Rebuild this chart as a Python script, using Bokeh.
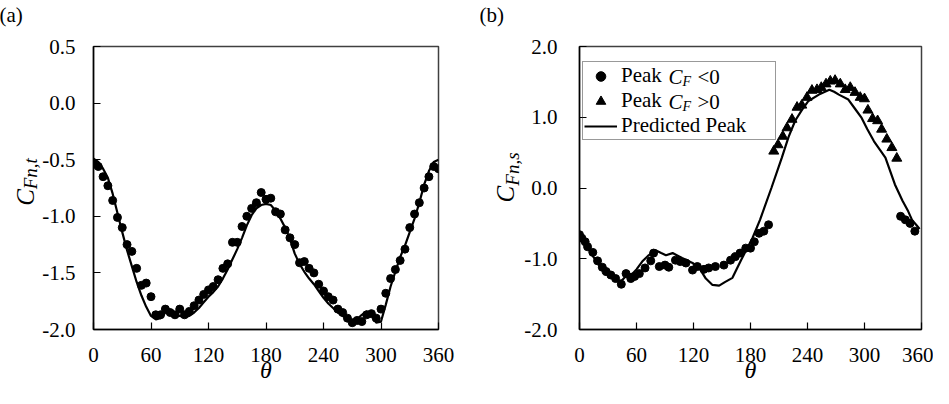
import math
from bokeh.plotting import figure
from bokeh.models import (FixedTicker, NumeralTickFormatter, Label, Legend,
                          LegendItem, Range1d, LinearAxis, Title)
from bokeh.layouts import row
from bokeh.embed import file_html
from bokeh.resources import INLINE

# ---------------- data: panel (a) ----------------
a_dot_theta = [0, 5, 10, 15, 20, 25, 30, 35, 40, 45, 50, 55, 60, 65, 70, 75, 80, 85,
               90, 95, 100, 105, 110, 115, 120, 125, 130, 135, 140, 145, 150, 155,
               160, 165, 170, 175, 180, 185, 190, 195, 200, 205, 210, 215, 220, 225,
               230, 235, 240, 245, 250, 255, 260, 265, 270, 275, 280, 285, 290, 295,
               300, 305, 310, 315, 320, 325, 330, 335, 340, 345, 350, 355, 360]
a_dot_val = [-0.54, -0.56, -0.65, -0.73, -0.86, -1.01, -1.10, -1.25, -1.31, -1.46,
             -1.61, -1.59, -1.71, -1.87, -1.87, -1.82, -1.85, -1.87, -1.82, -1.87,
             -1.84, -1.79, -1.74, -1.69, -1.65, -1.62, -1.56, -1.46, -1.42, -1.23,
             -1.23, -1.09, -1.00, -0.93, -0.88, -0.79, -0.85, -0.84, -0.96, -0.98,
             -1.12, -1.19, -1.25, -1.41, -1.40, -1.46, -1.50, -1.60, -1.66, -1.71,
             -1.74, -1.82, -1.85, -1.90, -1.94, -1.92, -1.93, -1.87, -1.86, -1.90,
             -1.82, -1.68, -1.55, -1.47, -1.39, -1.29, -1.10, -0.98, -0.88, -0.75,
             -0.65, -0.56, -0.58]
a_line_theta = [0, 5, 10, 15, 20, 25, 30, 35, 40, 45, 50, 55, 60, 65, 70, 75, 80, 85,
                90, 95, 100, 105, 110, 115, 120, 125, 130, 135, 140, 145, 150, 155,
                160, 165, 170, 175, 180, 185, 190, 195, 200, 205, 210, 215, 220, 225,
                230, 235, 240, 245, 250, 255, 260, 265, 270, 275, 280, 285, 290, 295,
                300, 305, 310, 315, 320, 325, 330, 335, 340, 345, 350, 355, 360]
a_line_val = [-0.49, -0.52, -0.58, -0.66, -0.80, -0.97, -1.14, -1.30, -1.44, -1.58,
              -1.70, -1.80, -1.88, -1.91, -1.90, -1.85, -1.84, -1.87, -1.88, -1.89,
              -1.88, -1.85, -1.81, -1.76, -1.71, -1.67, -1.62, -1.55, -1.47, -1.38,
              -1.29, -1.19, -1.08, -0.99, -0.93, -0.90, -0.89, -0.90, -0.95, -1.02,
              -1.10, -1.20, -1.33, -1.42, -1.49, -1.55, -1.60, -1.66, -1.72, -1.77,
              -1.81, -1.85, -1.88, -1.90, -1.92, -1.91, -1.87, -1.84, -1.87, -1.94,
              -1.93, -1.78, -1.62, -1.49, -1.36, -1.26, -1.14, -1.02, -0.88, -0.72,
              -0.60, -0.52, -0.50]

# ---------------- data: panel (b) ----------------
b_neg_theta = [0, 2.5, 6, 8.5, 14, 19, 24, 28, 33, 38, 44, 49, 54, 58, 63, 69, 75, 78,
               84, 90, 94, 101, 106, 112, 119, 124, 131, 136, 143, 152, 159, 164, 169,
               175, 180, 184, 189, 194, 199, 338, 343, 348, 353]
b_neg_val = [-0.66, -0.71, -0.76, -0.83, -0.91, -1.03, -1.12, -1.18, -1.23, -1.28,
             -1.36, -1.21, -1.28, -1.25, -1.21, -1.13, -1.03, -0.92, -1.11, -1.09,
             -1.12, -1.02, -1.04, -1.06, -1.16, -1.11, -1.15, -1.13, -1.11, -1.09,
             -1.02, -0.97, -0.92, -0.85, -0.85, -0.76, -0.64, -0.61, -0.52,
             -0.40, -0.45, -0.50, -0.61]
b_pos_theta = [204.5, 209, 214, 218.5, 223.7, 229, 234, 239.5, 244.7, 250, 254.5,
               259.5, 264, 269, 274.5, 279.7, 285, 290, 295.5, 300, 303.6, 308.5,
               313.8, 318, 323.5, 328.8, 334]
b_pos_val = [0.52, 0.61, 0.73, 0.85, 0.97, 1.14, 1.17, 1.28, 1.38, 1.39, 1.42, 1.47,
             1.51, 1.52, 1.47, 1.39, 1.42, 1.35, 1.28, 1.26, 1.10, 0.98, 0.95, 0.83,
             0.69, 0.57, 0.42]
b_line_theta = [0, 5, 10, 15, 20, 25, 30, 35, 40, 45, 50, 56, 60, 66, 72, 80, 86, 91,
                98, 108, 119, 126, 133, 140, 147, 153, 161, 170, 182, 190, 202, 213,
                220, 227, 234, 241, 252, 263, 268, 273, 283, 290, 297, 303, 310, 322,
                332, 340, 346, 350, 355, 358]
b_line_val = [-0.70, -0.78, -0.88, -0.98, -1.08, -1.16, -1.22, -1.28, -1.32, -1.30,
              -1.23, -1.21, -1.15, -1.04, -0.96, -0.88, -0.92, -0.95, -0.92, -0.99,
              -1.06, -1.13, -1.28, -1.37, -1.38, -1.33, -1.27, -1.02, -0.71, -0.45,
              0.00, 0.43, 0.72, 0.95, 1.10, 1.23, 1.32, 1.39, 1.36, 1.32, 1.25, 1.12,
              0.99, 0.83, 0.66, 0.43, 0.05, -0.18, -0.33, -0.45, -0.53, -0.58]

x_ticks = [0, 60, 120, 180, 240, 300, 360]
a_y_ticks = [-2.0, -1.5, -1.0, -0.5, 0.0, 0.5]
b_y_ticks = [-2.0, -1.0, 0.0, 1.0, 2.0]

SERIF = "Liberation Serif"
TICK_SIZE = "21px"
NB = "\u00a0"  # non-breaking space used to shift centred axis titles


def blank_axis(text, size, style, standoff):
    return LinearAxis(ticker=FixedTicker(ticks=[]), axis_label=text,
                      axis_label_text_font=SERIF, axis_label_text_font_size=size,
                      axis_label_text_font_style=style, axis_label_text_color="black",
                      axis_label_standoff=standoff, axis_line_color=None,
                      major_tick_in=0, major_tick_out=0, minor_tick_in=0,
                      minor_tick_out=0, major_tick_line_color=None,
                      minor_tick_line_color=None, major_label_standoff=0)


def make_fig(width, mbl, mbr, yr, yticks, tag, tag_offset, y_standoff):
    p = figure(width=width, height=388, output_backend="svg", toolbar_location=None,
               x_range=Range1d(0, 360), y_range=Range1d(*yr),
               min_border_left=mbl, min_border_right=mbr,
               min_border_top=46, min_border_bottom=59)
    p.grid.visible = False
    p.title.text = ""
    p.outline_line_color = "#404040"
    p.outline_line_width = 1.5
    p.xaxis.ticker = FixedTicker(ticks=x_ticks)
    p.yaxis.ticker = FixedTicker(ticks=yticks)
    p.yaxis.formatter = NumeralTickFormatter(format="0.0")
    for ax in (p.xaxis[0], p.yaxis[0]):
        ax.major_tick_in = 7
        ax.major_tick_out = 0
        ax.minor_tick_line_color = None
        ax.minor_tick_in = 0
        ax.minor_tick_out = 0
        ax.axis_line_color = "black"
        ax.axis_line_width = 1.5
        ax.major_tick_line_color = "black"
        ax.major_tick_line_width = 1.2
        ax.major_label_text_font = SERIF
        ax.major_label_text_font_size = TICK_SIZE
        ax.major_label_text_color = "black"
    p.xaxis.major_label_standoff = 18
    p.yaxis.major_label_standoff = y_standoff
    # x-axis title (theta), placed as a title below the axis
    p.add_layout(Title(text="\u03b8", align="center", vertical_align="bottom",
                       standoff=-20, text_font=SERIF,
                       text_font_size="24px", text_font_style="italic",
                       text_color="black"), "below")
    # empty spacer band above the frame, then the panel tag at the top-left corner
    p.add_layout(blank_axis(NB, "21px", "normal", -11), "above")
    p.add_layout(Title(text=tag, align="left", vertical_align="top", offset=tag_offset,
                       standoff=4, text_font=SERIF, text_font_size="21px",
                       text_font_style="normal", text_color="black"), "above")
    return p


def add_label(p, x, y, text, size, style="normal"):
    p.add_layout(Label(x=x, y=y, x_units="screen", y_units="screen", text=text,
                       text_font=SERIF, text_font_size=size, text_font_style=style,
                       text_color="black", text_align="left", text_baseline="middle",
                       level="overlay"))


# ---------------- panel (a) ----------------
pa = make_fig(480, 93, 42, (-2.0, 0.5), a_y_ticks, "(a)", -94, 18)
pa.line(a_line_theta, a_line_val, line_width=2.2, line_color="black")
pa.scatter(a_dot_theta, a_dot_val, marker="circle", size=8, color="black")
pa.add_layout(blank_axis(NB * 6 + "Fn,t", "19px", "italic", -1), "left")
pa.add_layout(blank_axis("C" + NB * 3, "25px", "italic", -22), "left")

# ---------------- panel (b) ----------------
pb = make_fig(453, 99, 12, (-2.0, 2.0), b_y_ticks, "(b)", -100, 22)
r_neg = pb.scatter(b_neg_theta, b_neg_val, marker="circle", size=8, color="black")
r_pos = pb.scatter(b_pos_theta, b_pos_val, marker="triangle", size=10, color="black")
r_line = pb.line(b_line_theta, b_line_val, line_width=2.2, line_color="black")
pb.add_layout(blank_axis(NB * 8 + "Fn,s", "19px", "italic", -1), "left")
pb.add_layout(blank_axis("C" + NB * 2, "25px", "italic", -20), "left")

legend = Legend(items=[LegendItem(label="Peak", renderers=[r_neg]),
                       LegendItem(label="Peak", renderers=[r_pos]),
                       LegendItem(label="Predicted Peak", renderers=[r_line])],
                location=(3, 189), margin=0, padding=1, spacing=0,
                label_height=24, glyph_height=24, glyph_width=33,
                label_standoff=4, label_width=153,
                label_text_font=SERIF, label_text_font_size="21px",
                label_text_color="black",
                border_line_color="#333333", border_line_width=1,
                background_fill_alpha=0.0)
pb.add_layout(legend)

for yy, sign in ((253.0, "<0"), (227.8, ">0")):
    add_label(pb, 89, yy, "C", "21px", "italic")
    add_label(pb, 103, yy - 5, "F", "14px", "italic")
    add_label(pb, 118, yy, sign, "21px")

layout = row(pa, pb)
open("out.html", "w").write(file_html(layout, INLINE))
